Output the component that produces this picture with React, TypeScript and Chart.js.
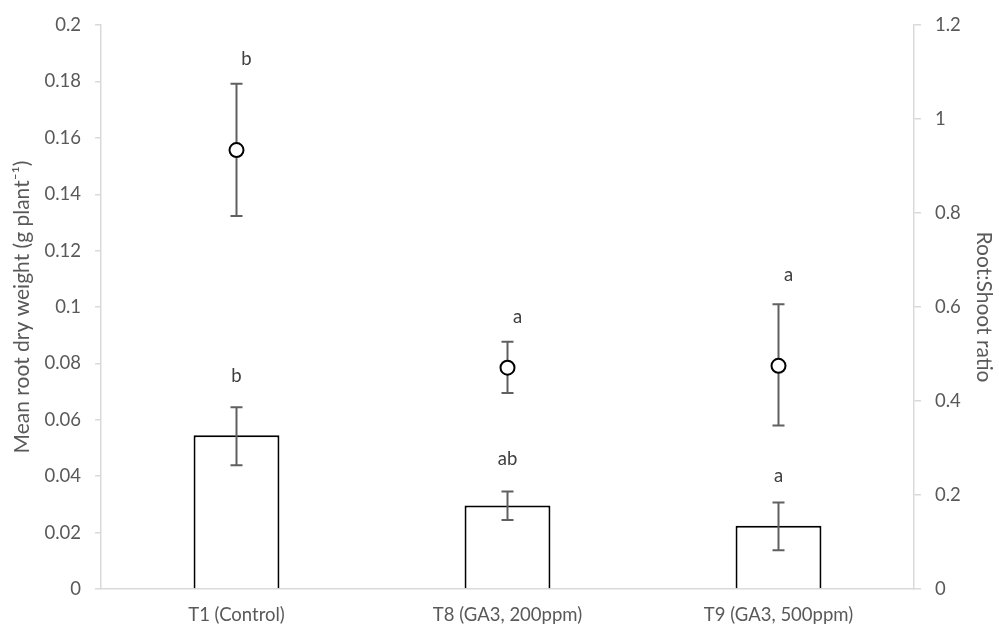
import React, { useEffect, useRef } from "react";
import { Chart, registerables } from "chart.js";

Chart.register(...registerables);

// ---- data ----
const categories = ["T1 (Control)", "T8 (GA3, 200ppm)", "T9 (GA3, 500ppm)"];
const rootWeight = [0.0545, 0.0296, 0.0224];
const rootWeightLow = [0.0439, 0.0245, 0.0137];
const rootWeightHigh = [0.0645, 0.0346, 0.0307];
const rootShoot = [0.934, 0.471, 0.475];
const rootShootLow = [0.794, 0.417, 0.348];
const rootShootHigh = [1.075, 0.526, 0.606];
const weightLetters = ["b", "ab", "a"];
const weightLetterY = [0.0757, 0.0461, 0.0399];
const ratioLetters = ["b", "a", "a"];
const ratioLetterY = [1.128, 0.579, 0.668];
const leftAxisMin = 0;
const leftAxisMax = 0.2;
const leftAxisStep = 0.02;
const rightAxisMin = 0;
const rightAxisMax = 1.2;
const rightAxisStep = 0.2;
const leftTitle = "Mean root dry weight (g plant\u207B\u00B9)";
const rightTitle = "Root:Shoot ratio";

// ---- styles ----
const FONT = "Lato";
const TICK_SIZE = 18.5;
const TITLE_SIZE = 21;
const TEXT_COLOR = "#595959";
const LETTER_COLOR = "#404040";
const AXIS_COLOR = "#d9d9d9";
const ERR_COLOR = "#606060";

function drawErr(ctx, x, yLow, yHigh, cap) {
  ctx.beginPath();
  ctx.moveTo(x, yLow);
  ctx.lineTo(x, yHigh);
  ctx.moveTo(x - cap, yLow);
  ctx.lineTo(x + cap, yLow);
  ctx.moveTo(x - cap, yHigh);
  ctx.lineTo(x + cap, yHigh);
  ctx.stroke();
}

const errorBarPlugin = {
  id: "errorBars",
  afterDatasetDraw(chart, args) {
    if (args.index !== 0) return;
    const ctx = chart.ctx;
    const xs = chart.scales.x;
    const ys = chart.scales.y;
    ctx.save();
    ctx.strokeStyle = ERR_COLOR;
    ctx.lineWidth = 2;
    rootWeight.forEach((_, i) => {
      drawErr(ctx, xs.getPixelForValue(i), ys.getPixelForValue(rootWeightLow[i]), ys.getPixelForValue(rootWeightHigh[i]), 6);
    });
    ctx.restore();
  },
  beforeDatasetDraw(chart, args) {
    if (args.index !== 1) return;
    const ctx = chart.ctx;
    const xs = chart.scales.x;
    const ys = chart.scales.y1;
    ctx.save();
    ctx.strokeStyle = ERR_COLOR;
    ctx.lineWidth = 2;
    rootShoot.forEach((_, i) => {
      drawErr(ctx, xs.getPixelForValue(i), ys.getPixelForValue(rootShootLow[i]), ys.getPixelForValue(rootShootHigh[i]), 6);
    });
    ctx.restore();
  },
};

const lettersPlugin = {
  id: "letters",
  afterDraw(chart) {
    const ctx = chart.ctx;
    const xs = chart.scales.x;
    ctx.save();
    ctx.fillStyle = LETTER_COLOR;
    ctx.font = `${TICK_SIZE}px ${FONT}`;
    ctx.textAlign = "center";
    ctx.textBaseline = "middle";
    weightLetters.forEach((t, i) => {
      ctx.fillText(t, xs.getPixelForValue(i), chart.scales.y.getPixelForValue(weightLetterY[i]));
    });
    ratioLetters.forEach((t, i) => {
      ctx.fillText(t, xs.getPixelForValue(i) + 10, chart.scales.y1.getPixelForValue(ratioLetterY[i]));
    });
    ctx.restore();
  },
};

export default function App() {
  const ref = useRef(null);
  useEffect(() => {
    const chart = new Chart(ref.current, {
      type: "bar",
      data: {
        labels: categories,
        datasets: [
          {
            type: "bar",
            data: rootWeight,
            yAxisID: "y",
            backgroundColor: "#ffffff",
            borderColor: "#000000",
            borderWidth: 2,
            barPercentage: 0.317,
            categoryPercentage: 1,
          },
          {
            type: "line",
            data: rootShoot,
            yAxisID: "y1",
            showLine: false,
            pointStyle: "circle",
            pointRadius: 7,
            pointBorderWidth: 2,
            pointBorderColor: "#000000",
            pointBackgroundColor: "#ffffff",
          },
        ],
      },
      options: {
        responsive: false,
        animation: false,
        devicePixelRatio: 1,
        layout: { padding: { top: 21, left: 0, right: 0, bottom: 0 } },
        plugins: { legend: { display: false }, tooltip: { enabled: false }, title: { display: false } },
        scales: {
          x: {
            grid: { display: false, drawTicks: false },
            border: { display: true, color: AXIS_COLOR, width: 1.5 },
            ticks: { color: TEXT_COLOR, font: { family: FONT, size: TICK_SIZE }, padding: 15, maxRotation: 0 },
            afterFit: (s) => { s.height = 45; },
          },
          y: {
            position: "left",
            min: leftAxisMin,
            max: leftAxisMax,
            grid: { drawOnChartArea: false, drawTicks: true, tickLength: 6, color: AXIS_COLOR, lineWidth: 1.5 },
            border: { display: true, color: AXIS_COLOR, width: 1.5 },
            ticks: {
              stepSize: leftAxisStep,
              color: TEXT_COLOR,
              font: { family: FONT, size: TICK_SIZE },
              padding: 14,
              callback: (v) => String(Number(Number(v).toFixed(3))),
            },
            title: { display: true, text: leftTitle, color: TEXT_COLOR, font: { family: FONT, size: TITLE_SIZE }, padding: { top: 10, bottom: 0 } },
            afterFit: (s) => { s.width = 101; },
          },
          y1: {
            position: "right",
            min: rightAxisMin,
            max: rightAxisMax,
            grid: { drawOnChartArea: false, drawTicks: true, tickLength: 7, color: AXIS_COLOR, lineWidth: 1.5 },
            border: { display: true, color: AXIS_COLOR, width: 1.5 },
            ticks: {
              stepSize: rightAxisStep,
              color: TEXT_COLOR,
              font: { family: FONT, size: TICK_SIZE },
              padding: 14,
              callback: (v) => String(Number(Number(v).toFixed(2))),
            },
            title: { display: true, text: rightTitle, color: TEXT_COLOR, font: { family: FONT, size: TITLE_SIZE }, padding: { top: 3, bottom: 0 } },
            afterFit: (s) => { s.width = 85; },
          },
        },
      },
      plugins: [errorBarPlugin, lettersPlugin],
    });
    return () => chart.destroy();
  }, []);
  return (
    <canvas
      ref={ref}
      width={999}
      height={634}
      style={{ position: "absolute", left: 0, top: 0, display: "block", width: 999, height: 634 }}
    />
  );
}
